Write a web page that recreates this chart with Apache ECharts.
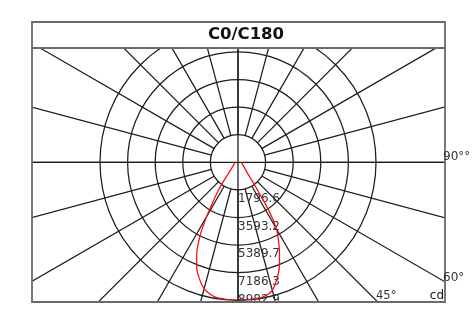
<!DOCTYPE html>
<html><head><meta charset="utf-8">
<script src="https://cdn.jsdelivr.net/npm/echarts/dist/echarts.min.js"></script>
<style>html,body{margin:0;padding:0;background:#fff}#c{width:475px;height:324px}</style>
</head><body><div id="c"></div>
<script>
// ---- data ----
const chartTitle = 'C0/C180';
const gammaAngles = [0, 5, 10, 15, 20, 22.5, 25, 27.5, 30, 32.5, 35, 37.5, 40, 45, 50, 60, 75, 90];
const c0Values   = [8983, 8975, 8930, 8630, 7690, 7060, 6380, 5700, 5000, 3770, 2260, 1500, 1053, 716, 545, 374, 267, 195];
const c180Values = [8983, 8965, 8880, 8520, 7680, 7040, 6300, 5300, 4080, 2990, 2240, 1530, 1035, 645, 475, 313, 216, 150];
const radiusTickLabels = ['1796.6', '3593.2', '5389.7', '7186.3', '8982.9'];
const radiusMax = 8982.9;
const angleLabels = ['90°°', '60°', '45°'];
const unitLabel = 'cd';

// ---- layout ----
const CX = 238, CY = 162.3;
const center = [CX, CY];
const tickStep = radiusMax / radiusTickLabels.length;
const FONT = 'DejaVu Sans';
const gridColor = '#1c1c1c';
const gridWidth = 1.25;
const frameColor = '#6a6a6a';
const labelColor = '#34343c';
const box = {x: 32, y: 22, w: 413, h: 280, titleH: 26};

const curve = [];
for (let i = gammaAngles.length - 1; i >= 1; i--) curve.push([c180Values[i], 360 - gammaAngles[i]]);
for (let i = 0; i < gammaAngles.length; i++) curve.push([c0Values[i], gammaAngles[i]]);

const angleBase = {type: 'value', min: 0, max: 360, startAngle: 270, clockwise: false,
  axisLine: {show: false}, axisTick: {show: false}, axisLabel: {show: false}};

const chart = echarts.init(document.getElementById('c'), null, {renderer: 'canvas'});
chart.setOption({
  animation: false,
  polar: [
    {center: center, radius: [27.4, 330]},
    {center: center, radius: [0, 330]},
    {center: center, radius: [0, 138]}
  ],
  angleAxis: [
    Object.assign({}, angleBase, {polarIndex: 0, interval: 15, splitLine: {show: true, lineStyle: {color: gridColor, width: gridWidth}}}),
    Object.assign({}, angleBase, {polarIndex: 1, interval: 90, splitLine: {show: true, lineStyle: {color: gridColor, width: gridWidth}}}),
    Object.assign({}, angleBase, {polarIndex: 2, interval: 90, splitLine: {show: false}})
  ],
  radiusAxis: [
    {polarIndex: 0, type: 'value', show: false},
    {polarIndex: 1, type: 'value', show: false},
    {polarIndex: 2, type: 'value', min: 0, max: radiusMax, interval: tickStep,
     axisLine: {show: false}, axisTick: {show: false},
     splitLine: {show: true, lineStyle: {color: gridColor, width: gridWidth}},
     axisLabel: {
       show: true, showMinLabel: false, margin: 0, align: 'left', verticalAlign: 'middle',
       formatter: function (v) {
         const idx = Math.round(v / tickStep);
         if (idx < 1) return '';
         const t = radiusTickLabels[idx - 1];
         return idx === radiusTickLabels.length ? '{b|' + t + '}' : '{a|' + t + '}';
       },
       rich: {
         a: {fontFamily: FONT, fontSize: 12, color: labelColor, lineHeight: 14, padding: [18, 0, 0, 0]},
         b: {fontFamily: FONT, fontSize: 12, color: labelColor, lineHeight: 14, padding: [0, 0, 0, 0]}
       }
     }}
  ],
  series: [{
    type: 'line', coordinateSystem: 'polar', polarIndex: 2, data: curve,
    showSymbol: false, smooth: 0.3, z: 5,
    lineStyle: {color: '#f01414', width: 1.3}
  }],
  graphic: [
    {type: 'rect', z: 100, shape: {x: 0, y: 0, width: 475, height: box.y + box.titleH}, style: {fill: '#fff'}},
    {type: 'rect', z: 100, shape: {x: 0, y: 0, width: box.x, height: 324}, style: {fill: '#fff'}},
    {type: 'rect', z: 100, shape: {x: box.x + box.w, y: 0, width: 40, height: 324}, style: {fill: '#fff'}},
    {type: 'rect', z: 100, shape: {x: 0, y: box.y + box.h + 1, width: 475, height: 30}, style: {fill: '#fff'}},
    {type: 'rect', z: 101, shape: {x: box.x, y: box.y, width: box.w, height: box.h}, style: {fill: 'none', stroke: frameColor, lineWidth: 1.8}},
    {type: 'line', z: 101, shape: {x1: box.x, y1: box.y + box.titleH, x2: box.x + box.w, y2: box.y + box.titleH}, style: {stroke: frameColor, lineWidth: 1.8}},
    {type: 'text', z: 102, x: 246, y: 35, style: {text: chartTitle, fontFamily: FONT, fontWeight: 'bold', fontSize: 16.5, fill: '#111', align: 'center', verticalAlign: 'middle'}},
    {type: 'text', z: 102, x: 443, y: 156.5, style: {text: angleLabels[0], fontFamily: FONT, fontSize: 12, fill: labelColor, align: 'left', verticalAlign: 'middle'}},
    {type: 'text', z: 102, x: 443, y: 277.5, style: {text: angleLabels[1], fontFamily: FONT, fontSize: 12, fill: labelColor, align: 'left', verticalAlign: 'middle'}},
    {type: 'text', z: 102, x: 376, y: 296, style: {text: angleLabels[2], fontFamily: FONT, fontSize: 11.5, fill: labelColor, align: 'left', verticalAlign: 'middle'}},
    {type: 'text', z: 102, x: 444, y: 296, style: {text: unitLabel, fontFamily: FONT, fontSize: 12, fill: '#111', align: 'right', verticalAlign: 'middle'}}
  ]
});
</script>
</body></html>
